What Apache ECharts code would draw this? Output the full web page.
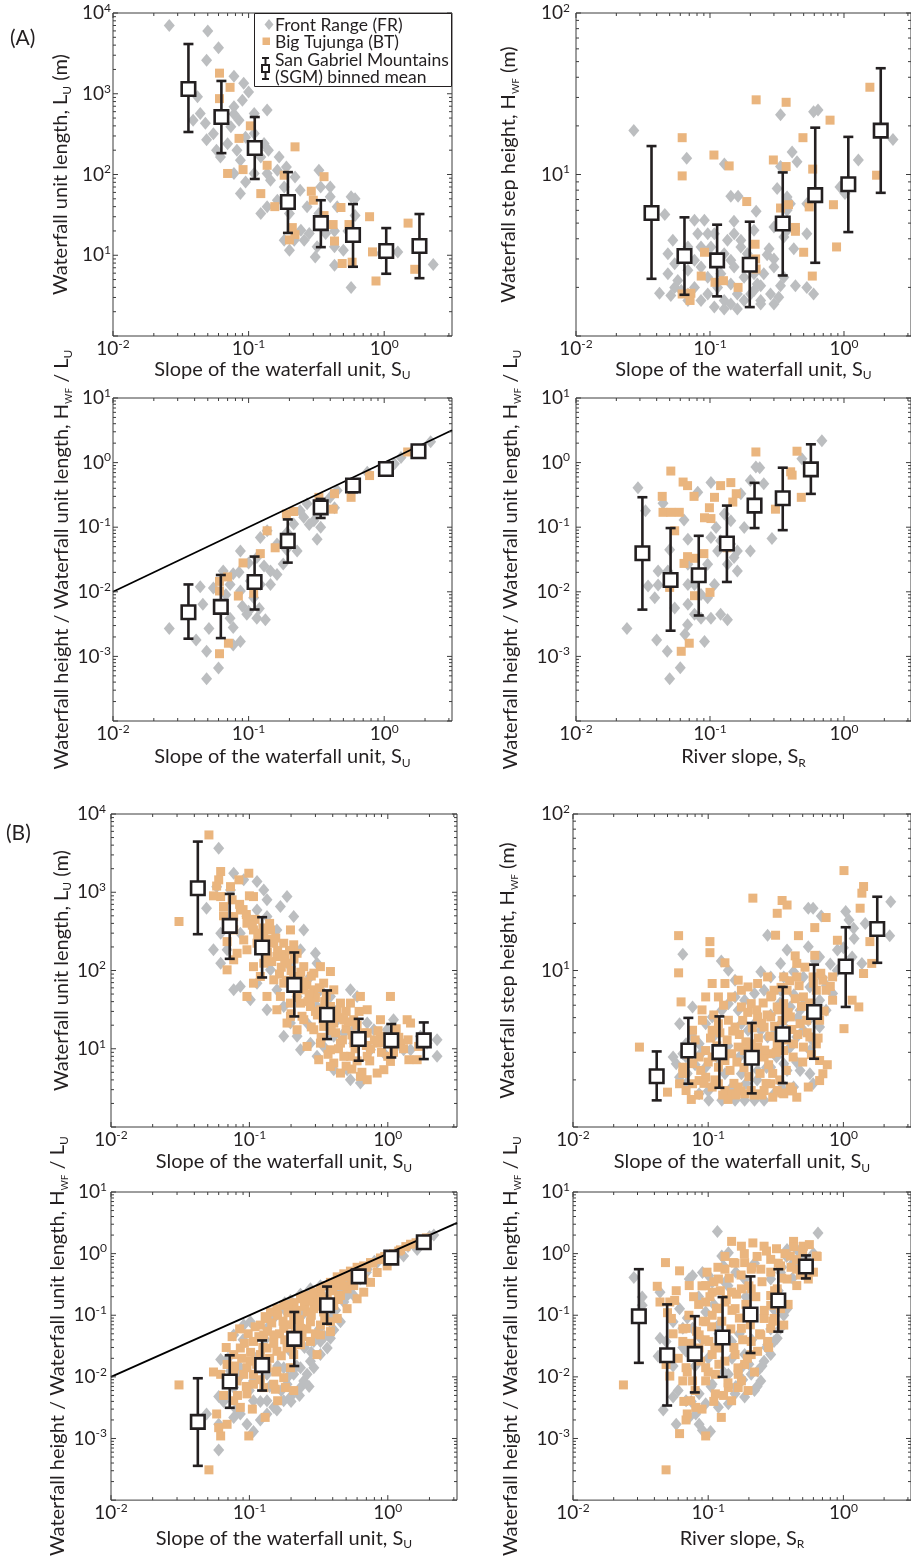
<!DOCTYPE html>
<html><head><meta charset="utf-8">
<script src="https://cdn.jsdelivr.net/npm/echarts@6/dist/echarts.min.js"></script>
<style>html,body{margin:0;padding:0;background:#fff}#c{width:911px;height:1558px}</style>
</head><body><div id="c"></div>
<script>
// ---------------- DATA ----------------
// (A) row 1 left: slope of waterfall unit S_U vs waterfall unit length L_U (m)
const a1_FR = [[0.026,7000],[0.05,6000],[0.06,3700],[0.049,2600],[0.078,1650],[0.092,1350],[0.1,1050],[0.044,570],[0.048,430],[0.055,320],[0.078,690],[0.09,830],[0.11,570],[0.137,630],[0.074,390],[0.085,470],[0.095,290],[0.07,240],[0.082,200],[0.062,165],[0.087,150],[0.123,165],[0.14,200],[0.168,165],[0.078,103],[0.095,81],[0.087,58],[0.137,103],[0.145,85],[0.19,124],[0.22,93],[0.123,33],[0.137,40],[0.183,70],[0.24,64],[0.163,48],[0.2,33],[0.33,113],[0.34,70],[0.4,53],[0.57,53],[0.61,50],[0.183,15.3],[0.217,15.3],[0.257,15.3],[0.31,9.5],[0.43,12.7],[0.2,11.5],[0.43,7.5],[0.57,4],[0.54,20],[1.26,11],[2.3,7.7],[0.33,33],[0.243,20.4],[0.28,18.6],[0.37,18.6],[0.45,40],[0.95,10.5],[0.5,11.5],[0.039,470],[0.049,270],[0.058,200],[0.11,322],[0.13,242],[0.11,103],[0.163,113],[0.43,20],[0.32,12.7],[0.27,40],[0.4,70],[0.61,31],[0.042,920],[0.078,560]];
const a1_BT = [[0.061,1800],[0.073,1200],[0.061,870],[0.103,400],[0.085,280],[0.091,115],[0.07,103],[0.137,130],[0.22,220],[0.123,58],[0.156,40],[0.183,98],[0.29,62],[0.36,94],[0.3,48],[0.36,31],[0.48,39],[0.21,22],[0.22,18],[0.2,15.5],[0.43,15],[0.49,7.9],[0.58,8.2],[0.78,30],[0.82,11],[0.87,4.8],[1.5,25],[1.68,6.7],[0.55,24],[0.42,24]];
// binned means: [slope, mean, lower, upper]
const a1_SGM = [[0.036,1146,336,4130],[0.063,515,184,1440],[0.111,213,88,515],[0.195,45.7,18.9,107],[0.341,25,12.6,48],[0.589,17.8,7.2,43],[1.035,11.3,5.9,21.7],[1.82,13,5.2,32.4]];

// (A) row 1 right: S_U vs waterfall step height H_WF (m)
const a2_FR = [[0.027,18.7],[0.046,5.65],[0.067,12.6],[0.042,1.84],[0.051,1.78],[0.128,11.6],[0.143,7.33],[0.162,7.33],[0.151,5.13],[0.221,5.92],[0.17,3.91],[0.336,23.4],[0.41,13.8],[0.446,12.0],[0.593,24.5],[0.64,25.1],[1.28,12.3],[2.32,16.5],[0.317,8.18],[0.30,3.0],[0.376,6.0],[0.528,4.3],[0.434,2.05],[0.593,1.82],[1.017,7.62],[0.267,3.18],[0.326,1.74],[0.30,1.58],[0.239,2.05],[0.213,1.91],[0.0528,3.91],[0.0485,3.23],[0.0545,2.8],[0.0485,2.43],[0.0575,2.21],[0.0684,2.55],[0.0766,2.94],[0.0684,3.56],[0.081,4.3],[0.0766,5.2],[0.0908,5.2],[0.0962,4.3],[0.0857,3.56],[0.1016,3.56],[0.0857,2.67],[0.0962,2.31],[0.0766,2.0],[0.0684,1.66],[0.0857,1.66],[0.0962,1.82],[0.114,2.0],[0.1276,1.66],[0.143,1.58],[0.16,1.82],[0.1795,1.66],[0.201,1.82],[0.2254,2.1],[0.252,2.43],[0.213,2.43],[0.1795,2.31],[0.1514,2.67],[0.1276,3.23],[0.135,3.91],[0.1514,4.3],[0.17,3.56],[0.19,3.23],[0.213,4.51],[0.143,2.1],[0.1205,2.43],[0.1077,1.51],[0.1276,1.47],[0.16,1.47],[0.239,1.66],[0.283,1.82],[0.30,2.67],[0.336,2.05],[0.356,2.31],[0.276,3.47],[0.356,4.1],[0.376,4.51],[0.30,4.73],[0.398,6.6],[0.376,7.26],[0.528,6.6],[0.422,3.47],[0.528,2.0],[0.0684,1.82],[0.061,1.91],[0.0545,2.0],[0.1077,4.3],[0.336,11.2],[0.933,8.38],[1.05,8.9],[0.239,1.58],[0.143,2.94]];
const a2_BT = [[0.062,16.9],[0.062,9.8],[0.107,13.2],[0.139,11.3],[0.221,29],[0.37,28],[0.188,6.8],[0.091,3.3],[0.086,2.35],[0.109,2.15],[0.126,2.2],[0.162,2.0],[0.062,1.82],[0.072,1.84],[0.071,1.66],[0.217,3.7],[0.219,3.0],[0.221,2.6],[0.297,12.3],[0.37,11.2],[0.336,6.2],[0.385,6.5],[0.434,4.7],[0.434,4.45],[0.494,16.9],[0.584,10.8],[0.55,6.3],[0.787,21.7],[0.834,6.5],[0.5,3.3],[0.88,3.56],[0.58,2.35],[1.56,34.7],[1.75,9.9]];
const a2_SGM = [[0.0366,5.78,2.26,15],[0.0645,3.13,1.8,5.43],[0.113,2.94,1.76,4.89],[0.198,2.76,1.51,5.1],[0.349,4.97,2.37,10.3],[0.61,7.45,2.84,19.5],[1.077,8.7,4.4,17.1],[1.88,18.7,7.7,45.5]];

// (A) row 2 left: S_U vs H_WF / L_U
const a3_FR = [[0.026,0.0027],[0.041,0.0018],[0.051,0.0027],[0.049,0.0012],[0.06,0.00066],[0.049,0.00045],[0.044,0.012],[0.046,0.0064],[0.055,0.0115],[0.065,0.021],[0.073,0.013],[0.087,0.043],[0.1,0.028],[0.115,0.034],[0.077,0.019],[0.087,0.0103],[0.109,0.0081],[0.073,0.0039],[0.077,0.0028],[0.097,0.0045],[0.115,0.0039],[0.133,0.0037],[0.087,0.0017],[0.077,0.0015],[0.145,0.021],[0.162,0.0186],[0.18,0.027],[0.145,0.013],[0.228,0.043],[0.215,0.112],[0.255,0.142],[0.32,0.065],[0.303,0.126],[0.34,0.1],[0.43,0.2],[0.45,0.37],[0.57,0.47],[0.75,0.71],[1.19,0.96],[1.33,1.2],[2.2,2.1],[0.122,0.069],[0.137,0.088],[0.162,0.055],[0.103,0.0147],[0.122,0.013],[0.192,0.083],[0.24,0.18],[0.27,0.23],[0.4,0.29],[0.06,0.006],[0.068,0.009],[0.09,0.006],[0.1,0.005],[0.12,0.0055],[0.13,0.025],[0.19,0.045],[0.28,0.11],[0.085,0.02]];
const a3_BT = [[0.061,0.0103],[0.07,0.017],[0.084,0.0086],[0.091,0.028],[0.137,0.088],[0.122,0.039],[0.157,0.048],[0.19,0.16],[0.215,0.175],[0.33,0.29],[0.42,0.19],[0.43,0.33],[0.57,0.29],[0.78,0.63],[1.49,1.46],[0.061,0.0011],[0.071,0.0016],[0.109,0.0095],[0.061,0.0145]];
const a3_SGM = [[0.036,0.00483,0.00188,0.013],[0.0624,0.00585,0.00192,0.0182],[0.1107,0.01416,0.00532,0.0351],[0.1945,0.0615,0.0283,0.132],[0.34,0.203,0.139,0.274],[0.589,0.443,0.348,0.5],[1.03,0.794,0.74,0.85],[1.79,1.5,1.45,1.55]];

// (A) row 2 right: river slope S_R vs H_WF / L_U
const a4_FR = [[0.029,0.407],[0.033,0.18],[0.0446,0.234],[0.064,0.129],[0.024,0.0027],[0.04,0.0018],[0.048,0.0012],[0.05,0.00045],[0.06,0.00067],[0.05,0.0446],[0.041,0.021],[0.041,0.0127],[0.0485,0.013],[0.0684,0.065],[0.0684,0.0267],[0.0766,0.013],[0.081,0.348],[0.1016,0.492],[0.111,0.099],[0.128,0.16],[0.143,0.126],[0.1016,0.069],[0.114,0.043],[0.135,0.0267],[0.16,0.021],[0.18,0.099],[0.2,0.043],[0.22,0.853],[0.235,0.834],[0.29,0.067],[0.684,2.17],[0.485,1.15],[0.2,0.53],[0.17,0.328],[0.0684,0.0064],[0.0766,0.0045],[0.091,0.0017],[0.065,0.0022],[0.0857,0.0039],[0.1016,0.0039],[0.12,0.0045],[0.135,0.0037],[0.0345,0.0123],[0.0387,0.0081],[0.096,0.0081],[0.068,0.0031],[0.0545,0.0056],[0.0857,0.0091],[0.096,0.0267],[0.12,0.0615],[0.151,0.034],[0.252,0.47],[0.0485,0.021],[0.0684,0.013],[0.108,0.013],[0.143,0.055],[0.16,0.043]];
const a4_BT = [[0.051,0.74],[0.044,0.3],[0.0446,0.17],[0.051,0.17],[0.059,0.17],[0.063,0.5],[0.068,0.44],[0.076,0.3],[0.0545,0.088],[0.064,0.0275],[0.068,0.035],[0.0766,0.033],[0.09,0.039],[0.1016,0.136],[0.099,0.2],[0.091,0.14],[0.108,0.29],[0.12,0.44],[0.143,0.49],[0.157,0.33],[0.148,0.245],[0.134,0.048],[0.05,0.0117],[0.0766,0.0087],[0.1,0.0098],[0.061,0.0012],[0.07,0.0016],[0.22,1.46],[0.308,0.19],[0.4,0.72],[0.41,0.64],[0.446,1.5],[0.48,0.29]];
const a4_SGM = [[0.0313,0.0395,0.0053,0.291],[0.0508,0.0152,0.0025,0.097],[0.0824,0.018,0.0043,0.0736],[0.1337,0.056,0.0142,0.216],[0.215,0.216,0.097,0.486],[0.349,0.28,0.09,0.834],[0.566,0.785,0.328,1.92]];

// (B) row 3 left: S_U vs L_U (m)
const b1_FR = [[0.06,3650],[0.049,625],[0.058,1180],[0.062,300],[0.073,1070],[0.077,1750],[0.091,1440],[0.1135,1370],[0.127,1070],[0.134,800],[0.187,880],[0.1675,656],[0.209,489],[0.247,330],[0.3,166],[0.308,124],[0.055,184],[0.069,184],[0.062,124],[0.086,62.5],[0.1016,42.3],[0.077,56.6],[0.1135,68.9],[0.134,31.5],[0.158,56.6],[0.177,14.4],[0.198,21.3],[0.221,14.4],[0.234,9.7],[0.276,11.8],[0.308,8],[0.344,10.7],[0.407,5.4],[0.508,5.4],[0.537,4.02],[0.634,3.65],[0.537,56.6],[0.6,46.6],[0.71,21.3],[0.793,17.5],[0.989,17.5],[1.17,11.8],[1.3,9.7],[1.46,9.7],[1.92,11.8],[2.27,13],[2.27,8],[1.72,14.4],[1.1,23.5],[0.385,46.6],[0.407,14.4],[0.481,15.9],[0.567,11.8],[0.096,489],[0.1135,595],[0.086,300],[0.134,489],[0.158,330],[0.198,112],[0.234,184],[0.276,83.8],[0.326,56.6],[0.407,31.5],[0.567,17.5],[0.75,9.7],[0.936,8.8],[0.308,34.7],[0.142,102],[0.177,34.7],[0.221,46.6],[0.261,21.3],[0.431,23.5]];
const b1_BT = [[0.051,5400],[0.031,423],[0.062,1840],[0.06,1440],[0.062,880],[0.065,656],[0.073,1180],[0.084,1440],[0.099,1750],[0.107,880],[0.077,489],[0.086,595],[0.096,402],[0.107,330],[0.077,330],[0.091,246],[0.069,234],[0.0815,166],[0.096,184],[0.1135,223],[0.127,272],[0.142,330],[0.15,223],[0.177,223],[0.198,330],[0.209,213],[0.107,112],[0.127,124],[0.134,151],[0.158,151],[0.187,124],[0.221,166],[0.247,112],[0.292,92.5],[0.326,112],[0.385,97],[0.12,83.8],[0.15,76],[0.177,68.9],[0.209,83.8],[0.247,56.6],[0.292,56.6],[0.344,68.9],[0.407,56.6],[0.134,46.6],[0.1675,46.6],[0.198,38.3],[0.234,38.3],[0.276,34.7],[0.326,31.5],[0.385,34.7],[0.455,38.3],[0.537,38.3],[0.634,46.6],[0.158,31.5],[0.198,25.9],[0.247,23.5],[0.292,17.5],[0.344,19.3],[0.407,21.3],[0.481,23.5],[0.567,23.5],[0.71,31.5],[0.885,23.5],[1.045,46.6],[1.38,23.5],[0.261,10.7],[0.326,11.8],[0.385,9.7],[0.455,11.8],[0.537,8],[0.567,11.8],[0.71,15.9],[0.71,8],[0.838,11.8],[0.885,14.4],[0.936,5.4],[1.045,6.89],[1.235,11.8],[1.42,7.24],[1.63,7.24],[1.67,10.7],[1.46,21.3],[0.407,6.56],[0.481,8],[0.634,4.43],[0.71,4.02],[0.838,4.89],[0.455,4.89],[0.069,102],[0.385,5.95],[0.317,7.24],[0.221,17.5],[0.187,21.3],[0.107,68.9],[0.096,46.6],[0.077,137],[0.12,300],[0.14,250],[0.16,180],[0.18,140],[0.2,100],[0.23,80],[0.26,65],[0.3,45],[0.35,40],[0.4,28],[0.45,25],[0.5,18],[0.55,15],[0.6,14],[0.65,12],[0.75,10],[0.8,13],[0.9,9],[1.1,9],[1.2,14],[0.13,200],[0.17,110],[0.22,60],[0.27,50],[0.31,27],[0.38,22],[0.42,16],[0.5,30],[0.6,20],[0.7,11],[0.09,600],[0.11,450],[0.14,400],[0.1,900],[0.075,800],[0.065,500],[0.055,900],[0.058,1200],[0.085,700],[0.095,520],[0.105,380],[0.115,260],[0.125,350],[0.135,170],[0.145,130],[0.155,260],[0.165,90],[0.175,160],[0.185,75],[0.195,180],[0.21,140],[0.22,45],[0.235,95],[0.25,72],[0.265,40],[0.28,85],[0.3,30],[0.32,60],[0.34,24],[0.36,48],[0.39,17],[0.43,30],[0.47,13],[0.52,22],[0.58,10],[0.62,30],[0.68,16],[0.74,7],[0.85,17],[0.95,12],[1.0,8],[1.15,18],[1.3,10],[1.4,13],[0.2,28],[0.24,26],[0.28,19],[0.33,14],[0.37,8.5],[0.44,10],[0.5,6],[0.55,5.5],[0.6,7],[0.65,5]];
const b1_SGM = [[0.0424,1125,291,4440],[0.0721,372,141,952],[0.1236,197,81.5,480],[0.211,65.6,25.9,170],[0.364,27.2,13.3,55.6],[0.616,13.3,7.03,24.1],[1.06,12.8,7.74,20.7],[1.82,12.8,7.38,21.7]];

// (B) row 3 right: S_U vs H_WF (m)
const b2_FR = [[0.0649,12.7],[0.125,11.5],[0.141,10.05],[0.158,8.67],[0.275,16.8],[0.245,9.8],[0.343,11.1],[0.383,13.5],[0.362,9.1],[0.428,9.8],[0.55,14.2],[0.55,25],[0.597,25],[0.686,22.3],[1.04,23.8],[1.1,21],[1.19,18.6],[1.45,20],[2.24,27.5],[2.2,16.7],[1.37,11.1],[1.16,12.2],[0.903,13.5],[0.667,12.2],[0.506,9.1],[0.565,7.85],[0.667,6.46],[0.832,7.13],[0.058,2.54],[0.0614,2.08],[0.0649,2.94],[0.055,2.8],[0.0686,3.4],[0.0766,3.76],[0.0857,3.4],[0.0766,5.85],[0.0958,4.57],[0.107,5.05],[0.119,4.15],[0.126,5.57],[0.141,6.14],[0.158,6.78],[0.176,4.57],[0.197,4.15],[0.22,4.57],[0.245,4.15],[0.275,3.76],[0.307,3.95],[0.343,4.57],[0.383,4.15],[0.452,3.76],[0.506,4.15],[0.478,5.57],[0.405,5.85],[0.343,7.48],[0.29,9.1],[0.259,7.48],[0.22,7.13],[0.186,6.46],[0.1667,5.57],[0.0686,1.89],[0.0857,1.63],[0.101,1.48],[0.126,1.48],[0.158,1.48],[0.186,1.48],[0.22,1.48],[0.259,1.48],[0.307,1.63],[0.362,1.71],[0.428,1.8],[0.383,2.3],[0.478,2.3],[0.565,2.19],[0.597,1.89],[0.565,3.08],[0.667,4.35],[0.745,5.57],[0.0958,2.41],[0.133,2.19],[0.176,2.19],[0.232,2.3],[0.29,2.41],[0.362,2.54],[0.0614,4.57],[0.0686,2.8],[0.07,2.2],[0.08,2.5],[0.09,3.0],[0.1,1.7],[0.11,3.8],[0.12,2.7],[0.14,3.3],[0.15,1.8],[0.17,2.8],[0.19,1.9],[0.21,3.3],[0.23,2.0],[0.25,3.0],[0.27,2.4],[0.29,5.2],[0.32,2.8],[0.34,6.2],[0.37,4.9],[0.4,3.2],[0.43,7.0],[0.46,5.0],[0.5,6.0],[0.55,4.8],[0.6,3.5],[0.65,6.0],[0.7,9.0],[0.75,8.0],[0.8,11],[0.9,10],[1.0,14],[1.2,16],[0.62,11.5],[0.45,2.6],[0.35,1.9]];
const b2_BT = [[0.031,3.24],[0.05,1.67],[0.0604,16.7],[0.0604,9.66],[0.063,6.3],[0.103,15.3],[0.103,13],[0.133,11.2],[0.214,29],[0.352,28],[0.383,26.2],[0.324,23.2],[0.315,16.8],[0.465,16.7],[0.44,12.4],[0.614,18.8],[0.745,21.8],[1.01,43.5],[1.41,34.4],[1.37,31.2],[1.33,25],[0.903,15.6],[1.01,4.25],[0.614,12.5],[1.62,11.1],[1.41,9.57],[1.57,15.3],[0.984,11.1],[0.832,9.1],[0.705,8.67],[0.832,6.46],[0.745,7.48],[1.16,6.46],[1.3,5.85],[0.0614,1.89],[0.0686,1.71],[0.0766,1.89],[0.0857,1.98],[0.0958,2.08],[0.107,1.8],[0.119,1.89],[0.133,1.71],[0.149,1.63],[0.1667,1.8],[0.186,1.63],[0.208,1.71],[0.232,1.63],[0.259,1.71],[0.29,1.89],[0.324,1.71],[0.362,1.63],[0.405,1.8],[0.452,1.55],[0.0649,2.41],[0.0766,2.54],[0.0857,2.8],[0.0958,3.08],[0.107,2.8],[0.119,2.41],[0.133,2.66],[0.149,2.94],[0.1667,3.24],[0.186,3.08],[0.208,3.4],[0.232,3.24],[0.259,2.8],[0.29,2.94],[0.324,3.4],[0.362,3.08],[0.428,3.4],[0.506,3.24],[0.565,3.76],[0.631,3.4],[0.667,2.66],[0.705,2.19],[0.0766,4.15],[0.0906,4.81],[0.107,4.15],[0.119,4.57],[0.141,4.81],[0.158,4.35],[0.176,5.85],[0.208,6.14],[0.232,5.05],[0.259,4.35],[0.29,5.05],[0.324,5.85],[0.362,6.14],[0.405,5.05],[0.478,4.57],[0.535,4.81],[0.667,4.81],[0.0958,6.78],[0.119,6.78],[0.149,6.78],[0.176,7.48],[0.197,7.85],[0.232,8.26],[0.275,9.1],[0.307,7.48],[0.383,7.48],[0.452,9.1],[0.506,6.78],[0.597,9.1],[0.631,7.48],[0.452,11.1],[0.362,9.1],[0.29,6.78],[0.107,8.26],[0.133,8.26],[0.1667,8.67],[0.667,1.98],[0.065,2.2],[0.072,2.9],[0.08,3.6],[0.088,2.3],[0.093,1.9],[0.1,2.6],[0.104,3.7],[0.112,2.0],[0.116,3.3],[0.122,4.0],[0.128,1.6],[0.131,2.9],[0.138,3.6],[0.145,2.3],[0.152,4.1],[0.155,1.9],[0.163,2.6],[0.17,3.9],[0.174,1.7],[0.18,4.8],[0.184,2.4],[0.19,3.5],[0.196,5.4],[0.2,2.1],[0.205,3.0],[0.212,4.3],[0.218,1.6],[0.224,2.7],[0.228,5.6],[0.235,3.7],[0.242,2.2],[0.248,4.6],[0.255,6.2],[0.262,3.1],[0.268,1.9],[0.273,5.2],[0.28,2.5],[0.286,3.8],[0.295,6.9],[0.3,2.2],[0.31,4.4],[0.318,3.0],[0.33,5.6],[0.338,2.0],[0.346,7.8],[0.352,4.8],[0.37,3.6],[0.378,2.3],[0.39,5.4],[0.4,8.6],[0.415,4.2],[0.425,2.8],[0.44,6.6],[0.46,3.9],[0.47,8.0],[0.49,5.9],[0.5,2.6],[0.52,10.5],[0.54,4.0],[0.56,6.2],[0.58,2.9],[0.6,8.3],[0.62,5.2],[0.65,3.7],[0.68,9.6],[0.72,5.5],[0.76,2.5],[0.8,7.9],[0.09,5.6],[0.11,5.2],[0.13,6.0],[0.085,1.6],[0.075,1.5],[0.14,1.5],[0.16,1.6],[0.3,1.55],[0.25,1.6],[0.35,1.65],[0.42,1.7],[0.55,1.8]];
const b2_SGM = [[0.0416,2.11,1.48,3.04],[0.0713,3.08,1.89,4.98],[0.121,3.01,1.78,5.09],[0.21,2.77,1.64,4.62],[0.356,3.91,1.91,7.85],[0.607,5.43,2.73,10.9],[1.04,10.6,5.85,18.9],[1.78,18.4,11.2,29.6]];

// (B) row 4 left: S_U vs H_WF / L_U
const b3_FR = [[0.06,0.0048],[0.049,0.0025],[0.06,0.0017],[0.06,0.00065],[0.077,0.0022],[0.086,0.0025],[0.096,0.0017],[0.107,0.0013],[0.12,0.002],[0.134,0.0025],[0.158,0.0029],[0.177,0.0041],[0.198,0.0047],[0.234,0.0067],[0.247,0.0086],[0.261,0.011],[0.292,0.0141],[0.326,0.023],[0.365,0.0294],[0.407,0.0577],[0.455,0.0784],[0.537,0.237],[0.073,0.0124],[0.086,0.0141],[0.107,0.0041],[0.134,0.0041],[0.15,0.0032],[0.187,0.0076],[0.209,0.011],[0.234,0.0141],[0.276,0.018],[0.326,0.0376],[0.385,0.0425],[0.407,0.1],[0.481,0.164],[0.567,0.209],[0.634,0.387],[0.71,0.559],[0.838,0.715],[1.045,0.807],[1.3,0.914],[1.63,1.17],[2.15,2.0],[0.062,0.0191],[0.077,0.048],[0.091,0.0693],[0.1016,0.0784],[0.134,0.0613],[0.177,0.128],[0.198,0.174],[0.234,0.22],[0.276,0.27],[0.326,0.3],[0.407,0.303],[0.177,0.0141],[0.134,0.011],[0.107,0.0086],[0.077,0.0067],[0.508,0.387],[0.292,0.0376],[0.065,0.004],[0.07,0.02],[0.08,0.003],[0.085,0.01],[0.09,0.04],[0.1,0.006],[0.11,0.02],[0.12,0.004],[0.13,0.04],[0.14,0.007],[0.15,0.09],[0.16,0.015],[0.17,0.006],[0.18,0.16],[0.19,0.01],[0.2,0.025],[0.22,0.015],[0.24,0.1],[0.25,0.03],[0.28,0.025],[0.3,0.2],[0.32,0.06],[0.35,0.045],[0.38,0.08],[0.42,0.12],[0.45,0.25],[0.5,0.2],[0.55,0.3],[0.6,0.45],[0.7,0.5],[0.8,0.75],[0.95,0.85],[1.1,0.95],[1.4,1.3],[1.8,1.6],[2.0,1.9],[0.27,0.007],[0.23,0.005],[0.2,0.004]];
const b3_BT = [[0.031,0.0074],[0.051,0.00031],[0.062,0.0011],[0.06,0.0015],[0.069,0.0017],[0.099,0.0011],[0.13,0.0022],[0.16,0.0041],[0.154,0.0063],[0.182,0.0067],[0.209,0.006],[0.077,0.0041],[0.086,0.0032],[0.096,0.0053],[0.107,0.0076],[0.062,0.011],[0.069,0.0159],[0.077,0.023],[0.086,0.0294],[0.107,0.0376],[0.127,0.048],[0.12,0.0693],[0.134,0.0887],[0.142,0.113],[0.158,0.128],[0.177,0.145],[0.198,0.128],[0.209,0.0887],[0.234,0.185],[0.261,0.209],[0.292,0.237],[0.326,0.268],[0.385,0.342],[0.431,0.42],[0.481,0.47],[0.537,0.52],[0.6,0.6],[0.67,0.632],[0.75,0.715],[0.885,0.85],[1.1,1.0],[1.235,1.15],[1.46,1.42],[1.72,1.65],[0.15,0.048],[0.177,0.0613],[0.198,0.048],[0.234,0.0613],[0.276,0.0784],[0.326,0.0693],[0.385,0.0784],[0.261,0.113],[0.292,0.128],[0.344,0.113],[0.407,0.145],[0.455,0.209],[0.508,0.268],[0.567,0.303],[0.67,0.387],[0.431,0.303],[0.365,0.185],[0.308,0.164],[0.1016,0.018],[0.12,0.023],[0.134,0.0294],[0.158,0.026],[0.187,0.0294],[0.209,0.023],[0.234,0.0332],[0.276,0.0376],[0.308,0.023],[0.134,0.0141],[0.158,0.0124],[0.177,0.0097],[0.198,0.0141],[0.107,0.011],[0.091,0.011],[0.127,0.0067],[0.15,0.0076],[0.0815,0.0086],[0.096,0.0141],[0.077,0.0124],[0.326,0.048],[0.385,0.0543],[0.431,0.0887],[0.508,0.128],[0.6,0.185],[0.67,0.237],[0.75,0.342],[0.838,0.494],[0.989,0.632],[0.065,0.005],[0.068,0.03],[0.072,0.008],[0.075,0.045],[0.078,0.015],[0.082,0.005],[0.085,0.06],[0.088,0.02],[0.092,0.035],[0.095,0.007],[0.098,0.05],[0.102,0.025],[0.105,0.003],[0.11,0.065],[0.113,0.016],[0.117,0.045],[0.12,0.009],[0.125,0.03],[0.13,0.095],[0.135,0.055],[0.14,0.02],[0.145,0.075],[0.15,0.035],[0.155,0.012],[0.16,0.1],[0.165,0.05],[0.17,0.022],[0.175,0.08],[0.18,0.04],[0.185,0.15],[0.19,0.11],[0.2,0.07],[0.205,0.03],[0.21,0.16],[0.215,0.05],[0.22,0.12],[0.23,0.085],[0.24,0.045],[0.245,0.2],[0.25,0.14],[0.26,0.06],[0.27,0.17],[0.28,0.1],[0.29,0.22],[0.3,0.05],[0.31,0.14],[0.33,0.2],[0.35,0.09],[0.36,0.3],[0.38,0.14],[0.4,0.25],[0.42,0.35],[0.44,0.18],[0.46,0.38],[0.48,0.3],[0.52,0.42],[0.55,0.36],[0.58,0.5],[0.62,0.48],[0.65,0.55],[0.7,0.6],[0.78,0.7],[0.9,0.8],[0.95,0.9],[1.2,1.1],[1.35,1.3],[1.6,1.5],[1.9,1.8],[0.058,0.0025],[0.055,0.012]];
const b3_SGM = [[0.0424,0.00186,0.00036,0.0095],[0.0721,0.0084,0.00315,0.0224],[0.1236,0.0155,0.006,0.039],[0.211,0.0414,0.015,0.113],[0.364,0.145,0.0728,0.292],[0.616,0.427,0.34,0.5],[1.06,0.86,0.78,0.95],[1.82,1.53,1.3,1.6]];

// (B) row 4 right: S_R vs H_WF / L_U
const b4_FR = [[0.117,2.29],[0.649,2.16],[0.0282,0.411],[0.0325,0.197],[0.0325,0.145],[0.044,0.237],[0.044,0.0425],[0.0426,0.0216],[0.055,0.0784],[0.0614,0.128],[0.0649,0.0613],[0.0724,0.387],[0.0766,0.437],[0.0906,0.494],[0.101,0.437],[0.107,0.342],[0.126,0.914],[0.141,1.03],[0.13,0.632],[0.055,0.0047],[0.0465,0.0029],[0.058,0.0017],[0.0724,0.0022],[0.0857,0.0017],[0.0906,0.00136],[0.104,0.0013],[0.0809,0.0025],[0.0958,0.00365],[0.119,0.0032],[0.141,0.00365],[0.158,0.0053],[0.186,0.0047],[0.22,0.006],[0.245,0.0086],[0.232,0.0124],[0.259,0.018],[0.29,0.023],[0.307,0.0376],[0.343,0.0613],[0.362,0.1],[0.383,0.128],[0.383,1.17],[0.452,1.17],[0.506,0.914],[0.0488,0.0376],[0.0686,0.026],[0.0766,0.0613],[0.0958,0.113],[0.119,0.0693],[0.149,0.0376],[0.186,0.023],[0.208,0.011],[0.176,0.0141],[0.141,0.011],[0.107,0.0076],[0.0857,0.0053],[0.0686,0.0041],[0.324,0.0425],[0.275,0.0332],[0.428,0.715],[0.343,0.494],[0.29,0.387],[0.133,0.342],[0.186,0.387],[0.055,0.015],[0.06,0.006],[0.065,0.03],[0.07,0.09],[0.075,0.004],[0.08,0.015],[0.085,0.2],[0.09,0.04],[0.1,0.02],[0.105,0.007],[0.11,0.15],[0.12,0.05],[0.13,0.012],[0.14,0.3],[0.15,0.02],[0.16,0.007],[0.17,0.05],[0.18,0.009],[0.19,0.2],[0.2,0.016],[0.21,0.04],[0.23,0.007],[0.25,0.015],[0.27,0.03],[0.29,0.06],[0.31,0.12],[0.33,0.25],[0.35,0.6],[0.38,0.9],[0.42,0.4],[0.46,0.8],[0.5,0.5],[0.55,0.75],[0.6,1.0],[0.22,0.7],[0.16,0.5]];
const b4_BT = [[0.0236,0.0074],[0.0488,0.00031],[0.0483,0.715],[0.042,0.295],[0.044,0.164],[0.052,0.164],[0.0565,0.174],[0.0534,0.0887],[0.0614,0.526],[0.0724,0.303],[0.052,0.0103],[0.0488,0.0159],[0.0649,0.0086],[0.0741,0.0041],[0.0809,0.0032],[0.0686,0.002],[0.0614,0.0012],[0.0958,0.0011],[0.125,0.0022],[0.149,0.0041],[0.141,0.0067],[0.1667,0.0067],[0.197,0.006],[0.176,0.0086],[0.113,0.0053],[0.0958,0.0086],[0.0686,0.0141],[0.0766,0.023],[0.0649,0.0376],[0.0686,0.0613],[0.0857,0.048],[0.0958,0.0784],[0.107,0.1],[0.0958,0.164],[0.107,0.237],[0.0958,0.303],[0.119,0.387],[0.133,0.559],[0.149,1.58],[0.1535,0.715],[0.176,1.32],[0.214,1.49],[0.259,1.32],[0.186,0.715],[0.208,0.559],[0.245,0.559],[0.29,0.807],[0.343,0.632],[0.428,1.58],[0.506,1.32],[0.631,0.914],[0.55,0.387],[0.452,0.303],[0.383,0.387],[0.324,0.268],[0.29,0.145],[0.259,0.0887],[0.29,0.0613],[0.362,0.0693],[0.245,0.048],[0.208,0.0376],[0.176,0.0613],[0.158,0.128],[0.133,0.164],[0.119,0.128],[0.149,0.237],[0.176,0.268],[0.208,0.268],[0.133,0.048],[0.119,0.0294],[0.107,0.023],[0.0958,0.0141],[0.133,0.018],[0.158,0.023],[0.186,0.0159],[0.208,0.023],[0.1667,0.011],[0.232,0.026],[0.275,0.0376],[0.113,0.011],[0.0857,0.0294],[0.101,0.0376],[0.0766,0.0086],[0.29,0.209],[0.405,0.914],[0.452,0.559],[0.307,0.0887],[0.343,0.128],[0.06,0.02],[0.065,0.06],[0.07,0.012],[0.072,0.1],[0.075,0.035],[0.078,0.2],[0.08,0.006],[0.082,0.055],[0.085,0.15],[0.088,0.018],[0.09,0.3],[0.092,0.08],[0.095,0.04],[0.098,0.5],[0.1,0.012],[0.103,0.2],[0.106,0.065],[0.11,0.35],[0.112,0.03],[0.115,0.13],[0.118,0.6],[0.12,0.016],[0.123,0.25],[0.126,0.08],[0.13,0.045],[0.133,0.9],[0.136,0.18],[0.14,0.008],[0.143,0.4],[0.147,0.06],[0.15,0.12],[0.155,0.03],[0.158,0.7],[0.162,0.22],[0.166,0.014],[0.17,0.09],[0.175,0.45],[0.18,0.04],[0.185,1.0],[0.19,0.15],[0.195,0.02],[0.2,0.3],[0.205,0.07],[0.21,0.6],[0.22,0.012],[0.225,0.2],[0.23,0.9],[0.24,0.05],[0.25,0.35],[0.26,0.12],[0.27,1.1],[0.28,0.03],[0.29,0.5],[0.3,0.08],[0.31,0.25],[0.32,1.2],[0.33,0.7],[0.35,0.4],[0.37,1.0],[0.39,0.15],[0.41,0.6],[0.43,1.3],[0.45,0.8],[0.48,0.45],[0.5,1.1],[0.53,0.7],[0.56,1.4],[0.6,0.5],[0.64,0.9],[0.066,0.004],[0.07,0.0025],[0.09,0.003],[0.11,0.004],[0.13,0.005],[0.055,0.05],[0.05,0.11],[0.058,0.25]];
const b4_SGM = [[0.0307,0.0966,0.0169,0.559],[0.0497,0.0224,0.00343,0.15],[0.0796,0.0236,0.0056,0.0966],[0.1277,0.0435,0.00998,0.197],[0.2056,0.103,0.0244,0.427],[0.33,0.174,0.0543,0.559],[0.528,0.617,0.396,0.935]];

// 1:1 line (H_WF / L_U = S_U)
const ONE_TO_ONE = [[0.01,0.01],[3.1623,3.1623]];

// axis ranges
const X_RANGE = [0.01, 3.1623];
const Y_RANGES = [[1,1e4],[1,100],[1e-4,10],[1e-4,10],[1,1e4],[1,100],[1e-4,10],[1e-4,10]];

// labels
const SERIES_NAMES = ['Front Range (FR)','Big Tujunga (BT)','San Gabriel Mountains','(SGM) binned mean'];
const PANEL_LABELS = ['(A)','(B)'];
const NAME_SU = '{t|Slope of the waterfall unit, S}{u|U}';
const NAME_SR = '{t|River slope, S}{u|R}';
const NAME_LU = '{t|Waterfall unit length, L}{u|U}{t| (m)}';
const NAME_HWF = '{t|Waterfall step height, H}{w|WF}{t| (m)}';
const NAME_HL = '{t|Waterfall height / Waterfall unit length, H}{w|WF}{t| / L}{u|U}';

// ---------------- LAYOUT / STYLE ----------------
const FONT = 'Lato';
const TXT = '#231f20';
const BOX = '#3c3c3c';
const GREY = '#bcbec0';
const ORANGE = '#eab57e';

const GRIDS = [
  {left:113, top:13, width:339, height:323},
  {left:576, top:13, width:339, height:323},
  {left:113, top:398, width:339, height:323},
  {left:576, top:398, width:339, height:323},
  {left:111, top:814, width:346, height:313},
  {left:573, top:814, width:346, height:313},
  {left:111, top:1192, width:346, height:312},
  {left:573, top:1192, width:346, height:312}
];
const X_NAME_GAP = [19,19,24,24,23,23,26,26];
const Y_NAME_GAP = [40,55,39,53,37,53,36,50];
const Y_LABEL_MARGIN = [2,6,2,6,5,3,4,3];

const PANELS = [
  {fr:a1_FR, bt:a1_BT, sgm:a1_SGM, xn:NAME_SU, yn:NAME_LU, line:false},
  {fr:a2_FR, bt:a2_BT, sgm:a2_SGM, xn:NAME_SU, yn:NAME_HWF, line:false},
  {fr:a3_FR, bt:a3_BT, sgm:a3_SGM, xn:NAME_SU, yn:NAME_HL, line:true},
  {fr:a4_FR, bt:a4_BT, sgm:a4_SGM, xn:NAME_SR, yn:NAME_HL, line:false},
  {fr:b1_FR, bt:b1_BT, sgm:b1_SGM, xn:NAME_SU, yn:NAME_LU, line:false},
  {fr:b2_FR, bt:b2_BT, sgm:b2_SGM, xn:NAME_SU, yn:NAME_HWF, line:false},
  {fr:b3_FR, bt:b3_BT, sgm:b3_SGM, xn:NAME_SU, yn:NAME_HL, line:true},
  {fr:b4_FR, bt:b4_BT, sgm:b4_SGM, xn:NAME_SR, yn:NAME_HL, line:false}
];

const RICH_TICK = {
  b:{fontFamily:FONT, fontSize:19, color:TXT, lineHeight:22},
  s:{fontFamily:FONT, fontSize:12, color:TXT, lineHeight:12, verticalAlign:'top'}
};
const RICH_NAME = {
  t:{fontFamily:FONT, fontSize:20, color:TXT, lineHeight:24},
  u:{fontFamily:FONT, fontSize:12, color:TXT, lineHeight:4, verticalAlign:'bottom'},
  w:{fontFamily:FONT, fontSize:10, color:TXT, lineHeight:4, verticalAlign:'bottom'}
};

function powLabel(v){
  const l = Math.log10(v), e = Math.round(l);
  if (Math.abs(l - e) > 1e-6) return '';
  return '{b|10}{s|' + e + '}';
}

function logTicks(lo, hi){
  const out = [];
  const e0 = Math.floor(Math.log10(lo) + 1e-9), e1 = Math.ceil(Math.log10(hi) - 1e-9);
  for (let e = e0; e <= e1; e++) for (let m = 1; m <= 9; m++){
    const v = m * Math.pow(10, e);
    if (v >= lo * 0.9999 && v <= hi * 1.0001) out.push([v, m === 1 ? 1 : 0]);
  }
  return out;
}

function xTickRender(p, api){
  const v = api.value(0);
  const a = api.coord([v, api.value(1)]), b = api.coord([v, api.value(2)]);
  const L = api.value(3) ? 5 : 3;
  const st = {stroke:BOX, lineWidth:1};
  return {type:'group', children:[
    {type:'line', shape:{x1:a[0], y1:a[1], x2:a[0], y2:a[1]-L}, style:st},
    {type:'line', shape:{x1:b[0], y1:b[1], x2:b[0], y2:b[1]+L}, style:st}
  ]};
}
function yTickRender(p, api){
  const v = api.value(1);
  const a = api.coord([api.value(0), v]), b = api.coord([api.value(2), v]);
  const L = api.value(3) ? 5 : 3;
  const st = {stroke:BOX, lineWidth:1};
  return {type:'group', children:[
    {type:'line', shape:{x1:a[0], y1:a[1], x2:a[0]+L, y2:a[1]}, style:st},
    {type:'line', shape:{x1:b[0], y1:b[1], x2:b[0]-L, y2:b[1]}, style:st}
  ]};
}
function errRender(p, api){
  const x = api.value(0);
  const a = api.coord([x, api.value(2)]), b = api.coord([x, api.value(3)]);
  const w = 5;
  const st = {stroke:TXT, lineWidth:2.6};
  return {type:'group', children:[
    {type:'line', shape:{x1:a[0], y1:a[1], x2:b[0], y2:b[1]}, style:st},
    {type:'line', shape:{x1:a[0]-w, y1:a[1], x2:a[0]+w, y2:a[1]}, style:st},
    {type:'line', shape:{x1:b[0]-w, y1:b[1], x2:b[0]+w, y2:b[1]}, style:st}
  ]};
}

const grid = [], xAxis = [], yAxis = [], series = [];
PANELS.forEach((P, i) => {
  const yr = Y_RANGES[i];
  grid.push(Object.assign({show:true, borderColor:BOX, borderWidth:1, backgroundColor:'transparent', containLabel:false}, GRIDS[i]));
  xAxis.push({
    type:'log', logBase:10, gridIndex:i, min:X_RANGE[0], max:X_RANGE[1],
    axisLine:{show:false}, axisTick:{show:false}, splitLine:{show:false}, minorTick:{show:false},
    axisLabel:{margin:2, formatter:powLabel, rich:RICH_TICK, showMinLabel:true, showMaxLabel:false, hideOverlap:false},
    name:P.xn, nameLocation:'middle', nameGap:X_NAME_GAP[i], nameTextStyle:{rich:RICH_NAME}
  });
  yAxis.push({
    type:'log', logBase:10, gridIndex:i, min:yr[0], max:yr[1],
    axisLine:{show:false}, axisTick:{show:false}, splitLine:{show:false}, minorTick:{show:false},
    axisLabel:{margin:Y_LABEL_MARGIN[i], formatter:powLabel, rich:RICH_TICK, showMinLabel:false, showMaxLabel:true, hideOverlap:false},
    name:P.yn, nameLocation:'middle', nameGap:Y_NAME_GAP[i], nameRotate:90, nameTextStyle:{rich:RICH_NAME}
  });
  series.push({
    type:'scatter', name:SERIES_NAMES[0], xAxisIndex:i, yAxisIndex:i, data:P.fr,
    symbol:'diamond', symbolSize:[11,13], itemStyle:{color:GREY, opacity:1}, z:2, silent:true
  });
  series.push({
    type:'scatter', name:SERIES_NAMES[1], xAxisIndex:i, yAxisIndex:i, data:P.bt,
    symbol:'rect', symbolSize:9, itemStyle:{color:ORANGE, opacity:1}, z:3, silent:true
  });
  if (P.line){
    series.push({
      type:'line', xAxisIndex:i, yAxisIndex:i, data:ONE_TO_ONE, symbol:'none',
      lineStyle:{color:'#000', width:1.8}, z:4, silent:true
    });
  }
  series.push({
    type:'custom', xAxisIndex:i, yAxisIndex:i, data:P.sgm, encode:{x:0, y:1},
    renderItem:errRender, z:5, silent:true
  });
  series.push({
    type:'scatter', name:SERIES_NAMES[2], xAxisIndex:i, yAxisIndex:i, data:P.sgm.map(d => [d[0], d[1]]),
    symbol:'rect', symbolSize:13.5, itemStyle:{color:'#fff', borderColor:TXT, borderWidth:2.6, opacity:1}, z:6, silent:true
  });
  series.push({
    type:'custom', xAxisIndex:i, yAxisIndex:i, encode:{x:0, y:1}, renderItem:xTickRender, z:10, silent:true,
    data:logTicks(X_RANGE[0], X_RANGE[1]).map(t => [t[0], yr[0], yr[1], t[1]])
  });
  series.push({
    type:'custom', xAxisIndex:i, yAxisIndex:i, encode:{x:0, y:1}, renderItem:yTickRender, z:10, silent:true,
    data:logTicks(yr[0], yr[1]).map(t => [X_RANGE[0], t[0], X_RANGE[1], t[1]])
  });
});

const legendFont = '17.5px ' + FONT;
const graphic = [
  {type:'rect', shape:{x:254.5, y:13.5, width:197, height:73}, style:{fill:'#fff', stroke:TXT, lineWidth:1}, z:50},
  {type:'polygon', shape:{points:[[269,19],[273.5,24.5],[269,30],[264.5,24.5]]}, style:{fill:GREY}, z:51},
  {type:'rect', shape:{x:262.5, y:37.5, width:7.5, height:7.5}, style:{fill:ORANGE}, z:51},
  {type:'line', shape:{x1:265.5, y1:58, x2:265.5, y2:79}, style:{stroke:TXT, lineWidth:2}, z:51},
  {type:'line', shape:{x1:262, y1:58, x2:269, y2:58}, style:{stroke:TXT, lineWidth:2}, z:51},
  {type:'line', shape:{x1:262, y1:79, x2:269, y2:79}, style:{stroke:TXT, lineWidth:2}, z:51},
  {type:'rect', shape:{x:262, y:65, width:7, height:7}, style:{fill:'#fff', stroke:TXT, lineWidth:2}, z:52},
  {type:'text', x:275, y:25, style:{text:SERIES_NAMES[0], font:legendFont, fill:TXT, verticalAlign:'middle'}, z:52},
  {type:'text', x:275, y:42, style:{text:SERIES_NAMES[1], font:legendFont, fill:TXT, verticalAlign:'middle'}, z:52},
  {type:'text', x:275, y:60, style:{text:SERIES_NAMES[2], font:legendFont, fill:TXT, verticalAlign:'middle'}, z:52},
  {type:'text', x:275, y:77, style:{text:SERIES_NAMES[3], font:legendFont, fill:TXT, verticalAlign:'middle'}, z:52},
  {type:'text', x:10, y:38, style:{text:PANEL_LABELS[0], font:'21px ' + FONT, fill:TXT, verticalAlign:'middle'}, z:52},
  {type:'text', x:6, y:833, style:{text:PANEL_LABELS[1], font:'21px ' + FONT, fill:TXT, verticalAlign:'middle'}, z:52}
];

const chart = echarts.init(document.getElementById('c'), null, {renderer:'canvas', width:911, height:1558});
chart.setOption({
  animation:false,
  backgroundColor:'#fff',
  textStyle:{fontFamily:FONT, color:TXT},
  grid, xAxis, yAxis, series, graphic
});
</script></body></html>
